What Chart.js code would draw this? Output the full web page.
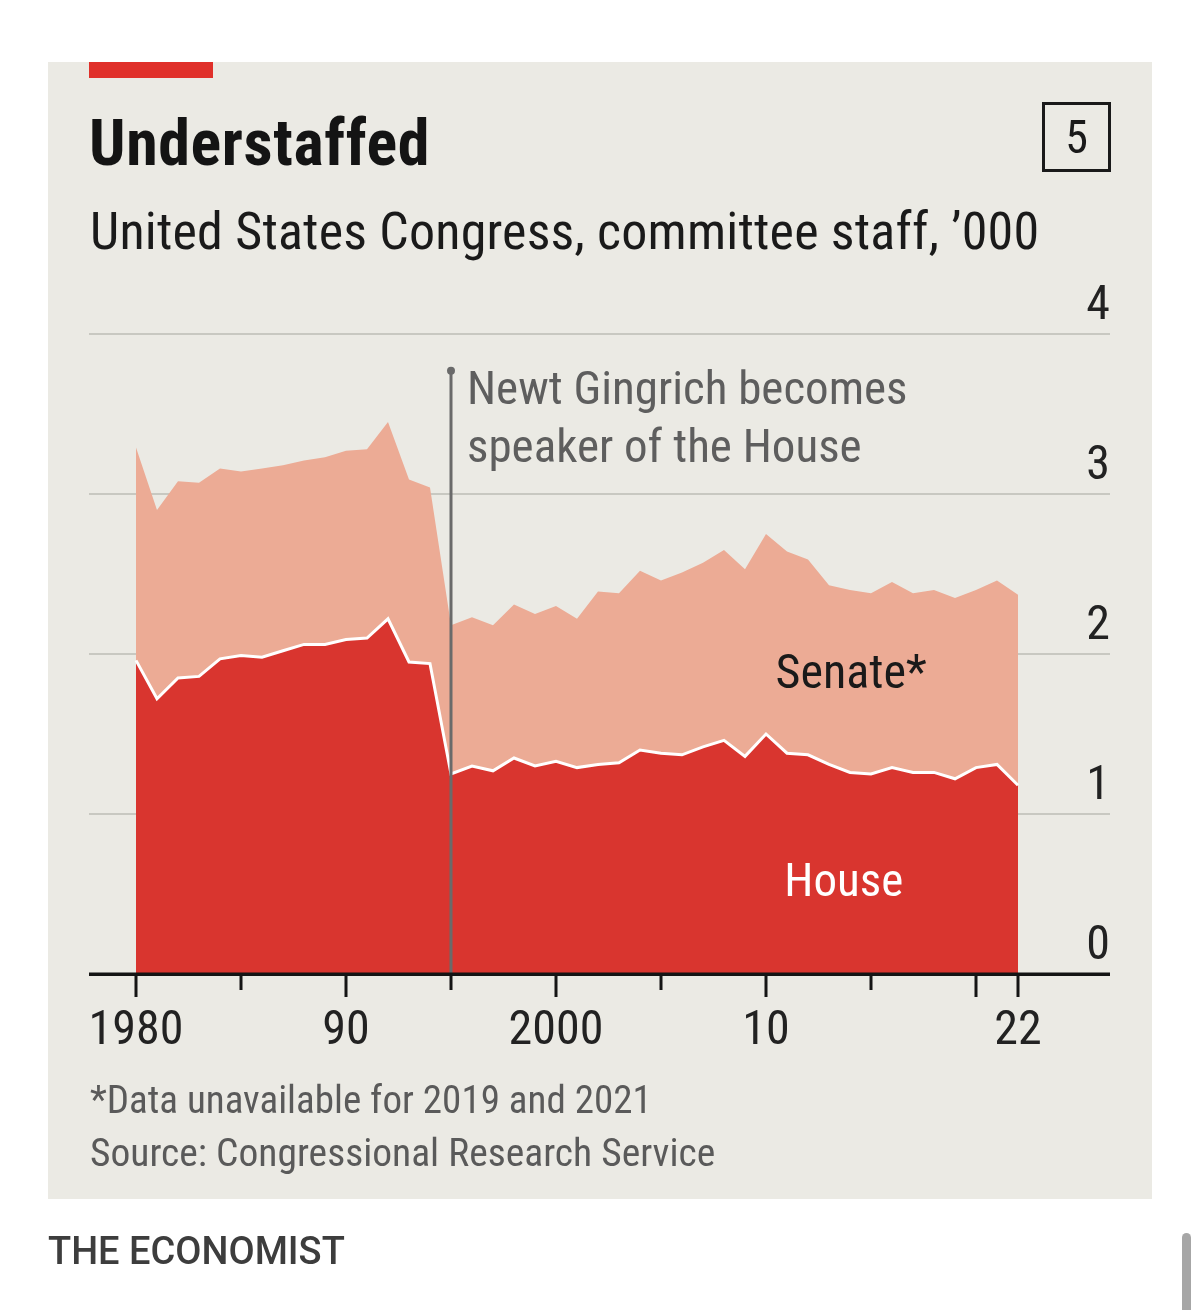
<!DOCTYPE html>
<html>
<head>
<meta charset="utf-8">
<script src="https://cdn.jsdelivr.net/npm/chart.js@4.4.1/dist/chart.umd.min.js"></script>
<style>
  body { margin: 0; background: #fff; }
  #page { position: relative; width: 1200px; height: 1310px; overflow: hidden;
          font-family: "Liberation Sans Narrow", "Roboto Condensed", "DejaVu Sans Condensed", Roboto, sans-serif; }
  #panel { position: absolute; left: 48px; top: 62px; width: 1104px; height: 1137px; background: #ebeae4; }
  #redbar { position: absolute; left: 89px; top: 62px; width: 124px; height: 16px; background: #e0302a; }
  #chart { position: absolute; left: 0; top: 0; }
  .txt { position: absolute; white-space: nowrap; line-height: 1; }
  #title { left: 89px; top: 112px; font-size: 64px; font-weight: bold; color: #141414; letter-spacing: 0.6px; }
  #subtitle { left: 90px; top: 206px; font-size: 52px; color: #1a1a1a; letter-spacing: 0.2px; }
  #num { left: 1042px; top: 102px; width: 63px; height: 64px; border: 3px solid #1a1a1a;
         font-size: 46px; text-align: center; line-height: 64px; color: #1a1a1a; }
  #note { left: 90px; top: 1081px; font-size: 39px; color: #5a5a5a; }
  #source { left: 90px; top: 1133px; font-size: 39.5px; color: #5a5a5a; }
  #brand { left: 48px; top: 1232px; font-size: 38px; color: #3d3d3d; font-family: Roboto, sans-serif; font-weight: 500; }
  #scroll { position: absolute; left: 1182px; top: 1233px; width: 9px; height: 90px; border-radius: 5px; background: #a6a6a6; }
</style>
</head>
<body>
<div id="page">
  <div id="panel"></div>
  <div id="redbar"></div>
  <canvas id="chart" width="1200" height="1310"></canvas>
  <div class="txt" id="title">Understaffed</div>
  <div class="txt" id="num">5</div>
  <div class="txt" id="subtitle">United States Congress, committee staff, ’000</div>
  <div class="txt" id="note">*Data unavailable for 2019 and 2021</div>
  <div class="txt" id="source">Source: Congressional Research Service</div>
  <div class="txt" id="brand">THE ECONOMIST</div>
  <div id="scroll"></div>
</div>
<script>
const years = [1980, 1981, 1982, 1983, 1984, 1985, 1986, 1987, 1988, 1989,
               1990, 1991, 1992, 1993, 1994, 1995, 1996, 1997, 1998, 1999,
               2000, 2001, 2002, 2003, 2004, 2005, 2006, 2007, 2008, 2009,
               2010, 2011, 2012, 2013, 2014, 2015, 2016, 2017, 2018, 2019,
               2020, 2021, 2022];

// committee staff, thousands
const house = [1.96, 1.72, 1.85, 1.86, 1.97, 1.99, 1.98, 2.02, 2.06, 2.06,
               2.09, 2.10, 2.22, 1.95, 1.94, 1.25, 1.30, 1.27, 1.35, 1.30,
               1.33, 1.29, 1.31, 1.32, 1.40, 1.38, 1.37, 1.42, 1.46, 1.36,
               1.50, 1.38, 1.37, 1.31, 1.26, 1.25, 1.29, 1.26, 1.26, 1.22,
               1.29, 1.31, 1.18];

const senate = [1.33, 1.18, 1.23, 1.21, 1.19, 1.15, 1.18, 1.16, 1.15, 1.17,
                1.18, 1.18, 1.23, 1.14, 1.10, 0.93, 0.93, 0.91, 0.96, 0.95,
                0.97, 0.93, 1.08, 1.06, 1.12, 1.08, 1.14, 1.15, 1.19, 1.17,
                1.25, 1.26, 1.22, 1.12, 1.14, 1.13, 1.16, 1.12, 1.14, 1.13,
                1.11, 1.15, 1.19];

const tickYears = [1980, 1985, 1990, 1995, 2000, 2005, 2010, 2015, 2020, 2022];
const tickLabels = { 1980: '1980', 1990: '90', 2000: '2000', 2010: '10', 2022: '22' };
const yTicks = [0, 1, 2, 3, 4];

const gingrichYear = 1995;
const gingrichText = ['Newt Gingrich becomes', 'speaker of the House'];

const FONT = '"Liberation Sans Narrow", "Roboto Condensed", "DejaVu Sans Condensed", Roboto, sans-serif';

const extras = {
    id: 'extras',
    afterDatasetsDraw(chart) {
        const c = chart.ctx;
        const x = chart.scales.x;
        const y = chart.scales.y;
        const base = y.getPixelForValue(0);

        c.save();

        // Gingrich marker
        const gx = x.getPixelForValue(gingrichYear);
        const gTop = y.getPixelForValue(3.77);
        c.strokeStyle = '#6a6a6a';
        c.lineWidth = 3;
        c.beginPath();
        c.moveTo(gx, gTop);
        c.lineTo(gx, base);
        c.stroke();
        c.fillStyle = '#6a6a6a';
        c.beginPath();
        c.arc(gx, gTop, 4, 0, Math.PI * 2);
        c.fill();

        c.font = '47px ' + FONT;
        c.fillStyle = '#5e5e5e';
        c.textBaseline = 'alphabetic';
        c.textAlign = 'left';
        c.fillText(gingrichText[0], gx + 16, 404);
        c.fillText(gingrichText[1], gx + 16, 462);

        // series labels
        c.textAlign = 'center';
        c.textBaseline = 'middle';
        c.font = '48px ' + FONT;
        c.fillStyle = '#1a1a1a';
        c.fillText('Senate*', x.getPixelForValue(2014.05), y.getPixelForValue(1.86));
        c.font = '47px ' + FONT;
        c.fillStyle = '#ffffff';
        c.fillText('House', x.getPixelForValue(2013.7), y.getPixelForValue(0.56));

        // baseline and tick marks
        c.strokeStyle = '#141414';
        c.lineWidth = 3;
        c.beginPath();
        c.moveTo(chart.chartArea.left, base);
        c.lineTo(chart.chartArea.right, base);
        c.stroke();
        tickYears.forEach(yr => {
            const px = x.getPixelForValue(yr);
            const len = (yr % 10 === 0 || yr === 2022) ? 23 : 16;
            c.beginPath();
            c.moveTo(px, base);
            c.lineTo(px, base + len);
            c.stroke();
        });

        c.restore();
    }
};

new Chart(document.getElementById('chart'), {
    type: 'line',
    data: {
        datasets: [{
            label: 'House',
            data: years.map((yr, i) => ({ x: yr, y: house[i] })),
            backgroundColor: '#d9352f',
            borderColor: '#ffffff',
            borderWidth: 3,
            pointRadius: 0,
            tension: 0,
            fill: 'origin'
        }, {
            label: 'Senate',
            data: years.map((yr, i) => ({ x: yr, y: senate[i] })),
            backgroundColor: '#ecab95',
            borderColor: 'rgba(0,0,0,0)',
            borderWidth: 0,
            pointRadius: 0,
            tension: 0,
            fill: '-1'
        }]
    },
    options: {
        responsive: false,
        animation: false,
        devicePixelRatio: 1,
        layout: { padding: { left: 89, right: 90, top: 334, bottom: 256 } },
        plugins: { legend: { display: false }, tooltip: { enabled: false } },
        scales: {
            x: {
                type: 'linear',
                min: 1977.762,
                max: 2026.381,
                grid: { display: false, drawTicks: false },
                border: { display: false },
                afterBuildTicks(scale) {
                    scale.ticks = tickYears.map(v => ({ value: v }));
                },
                afterFit(scale) { scale.height = 80; },
                ticks: {
                    autoSkip: false,
                    maxRotation: 0,
                    padding: 29,
                    color: '#222',
                    font: { family: FONT, size: 48 },
                    callback: v => tickLabels[v] || ''
                }
            },
            y: {
                position: 'right',
                stacked: true,
                min: 0,
                max: 4,
                afterBuildTicks(scale) {
                    scale.ticks = yTicks.map(v => ({ value: v }));
                },
                afterFit(scale) { scale.width = 0; },
                grid: {
                    drawTicks: false,
                    color: ctx => ctx.tick && ctx.tick.value === 0 ? '#141414' : '#c8c8c1',
                    lineWidth: ctx => ctx.tick && ctx.tick.value === 0 ? 3 : 2
                },
                border: { display: false },
                ticks: {
                    mirror: true,
                    padding: 0,
                    labelOffset: -27,
                    color: '#222',
                    font: { family: FONT, size: 48 }
                }
            }
        }
    },
    plugins: [extras]
});
</script>
</body>
</html>
